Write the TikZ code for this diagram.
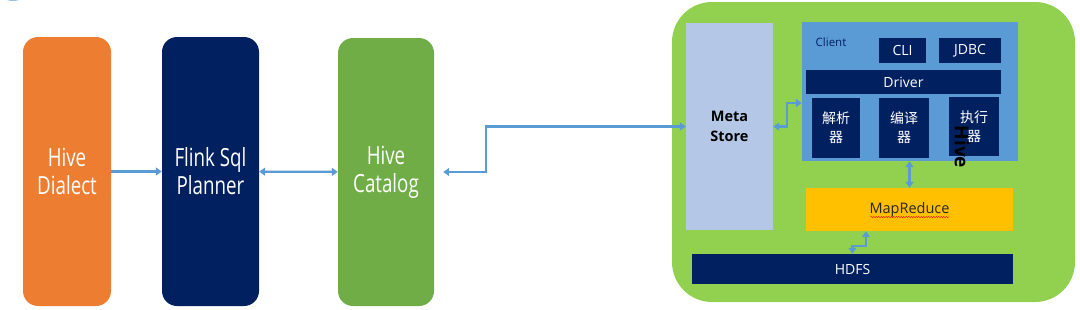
\documentclass[tikz,border=0pt]{standalone}
\usepackage{fontspec}
\setmainfont{Open Sans}
\newfontfamily\narrowfont{Open Sans}[FakeStretch=0.75]
\newfontfamily\cjk{Noto Sans CJK SC}
\usetikzlibrary{arrows.meta,decorations.pathmorphing}

\definecolor{dialectorange}{HTML}{ED7D31}
\definecolor{plannernavy}{HTML}{002060}
\definecolor{cataloggreen}{HTML}{70AD47}
\definecolor{hivegreen}{HTML}{92D050}
\definecolor{metablue}{HTML}{B4C7E7}
\definecolor{clientblue}{HTML}{5B9BD5}
\definecolor{mrgold}{HTML}{FFC000}
\definecolor{linkblue}{HTML}{5B9BD5}
\definecolor{arcblue}{HTML}{9DC3E6}

\begin{document}
\begin{tikzpicture}[x=1pt, y=-1pt,
  bigbox/.style={rounded corners=15pt, inner sep=0pt, text=white,
    font=\narrowfont\fontsize{25}{28}\selectfont, align=center},
  partbox/.style={fill=plannernavy, inner sep=0pt, text=white,
    font=\fontsize{14}{19}\selectfont, align=center},
  link/.style={draw=linkblue, line width=2.2pt},
  tips/.style={{Triangle[length=6pt,width=8pt]}-{Triangle[length=6pt,width=8pt]}}]
\useasboundingbox (0,0) rectangle (1080,309);
\begin{scope}
\clip (0,0) rectangle (1080,309);
\fill[arcblue] (13,-12) ellipse (16 and 13);
\end{scope}

% flink side
\node[bigbox, fill=dialectorange, minimum width=88pt, minimum height=269pt] (dialect) at (67,171.5) {Hive\\Dialect};
\node[bigbox, fill=plannernavy, minimum width=97pt, minimum height=269pt] (planner) at (210.5,171.5) {Flink Sql\\Planner};
\node[bigbox, fill=cataloggreen, minimum width=96pt, minimum height=268pt] (catalog) at (386,172) {Hive\\Catalog};

% hive side
\node[fill=hivegreen, rounded corners=40pt, minimum width=403pt, minimum height=300pt] (hive) at (873.5,152) {};
\node[fill=metablue, inner sep=0pt, minimum width=87pt, minimum height=207pt, align=center,
  font=\bfseries\fontsize{14.5}{20}\selectfont] (metastore) at (729.5,126.5) {Meta\\Store};
\node[fill=clientblue, inner sep=0pt, minimum width=216pt, minimum height=139pt] (client) at (910,91.5) {};
\node[text=plannernavy, font=\fontsize{11.5}{12}\selectfont, inner sep=0pt] (clientlabel) at (831,42) {Client};
\node[partbox, minimum width=47pt, minimum height=25pt] (cli) at (902.5,50.5) {CLI};
\node[partbox, minimum width=62pt, minimum height=25pt] (jdbc) at (970,50.5) {JDBC};
\node[partbox, minimum width=195pt, minimum height=24pt] (driver) at (903.5,82) {Driver};
\node[partbox, minimum width=48pt, minimum height=60pt] (parser) at (836,128) {\cjk 解析\\\cjk 器};
\node[partbox, minimum width=50pt, minimum height=60pt] (compiler) at (904,128) {\cjk 编译\\\cjk 器};
\node[partbox, minimum width=50pt, minimum height=59pt] (executor) at (974,126.5) {\cjk 执行\\\cjk 器};
\node[rotate=-90, inner sep=0pt, font=\bfseries\fontsize{19}{19}\selectfont] (hivelabel) at (962,147) {Hive};
\node[fill=mrgold, inner sep=0pt, minimum width=207pt, minimum height=43pt, text=black!85,
  font=\fontsize{14.5}{16}\selectfont] (mapreduce) at (909.5,209.5) {MapReduce};
\draw[red, line width=0.4pt, decorate, decoration={snake, amplitude=0.6pt, segment length=2.5pt}]
  ([xshift=-39pt,yshift=-7.5pt]mapreduce.center) -- ([xshift=40pt,yshift=-7.5pt]mapreduce.center);
\node[partbox, minimum width=321pt, minimum height=30pt] (hdfs) at (852.5,269) {HDFS};

% connectors
\draw[link, -{Triangle[length=6pt,width=8pt]}] (dialect) -- (planner);
\draw[link, tips] (planner) -- (catalog);
\draw[link, tips] ([xshift=9pt]catalog.east) -- ++(43,0) |- (metastore.west);
\draw[link, tips] (metastore.east) -- ++(14,0) |- ([yshift=-11.5pt]client.west);
\draw[link, tips] (mapreduce.north) -- (mapreduce.north |- client.south);
\draw[link, tips] (hdfs.north) -- ++(0,-8) -| ([xshift=-43.5pt]mapreduce.south);
\end{tikzpicture}
\end{document}
